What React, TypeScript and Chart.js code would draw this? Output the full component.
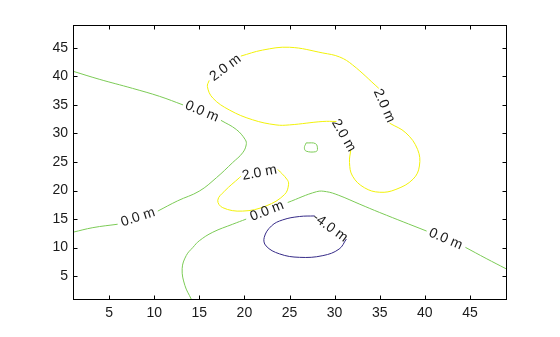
import React, { useEffect, useRef } from "react";
import { Chart, registerables } from "chart.js";

Chart.register(...registerables);

const xTicks = [5, 10, 15, 20, 25, 30, 35, 40, 45];
const yTicks = [5, 10, 15, 20, 25, 30, 35, 40, 45];
const xRange = [1, 49];
const yRange = [1, 49];

const levelColors: Record<string, string> = {
  "-4.0 m": "#352a87",
  "0.0 m": "#7ccb56",
  "2.0 m": "#f2f20a",
};

// contour segments (level, points [x, y])
const green0a: number[][] = [[1, 40.9], [3.9, 39.5], [7.6, 37.9], [10.6, 36.5], [13.2, 35.0]];
const green0b: number[][] = [[17.4, 32.3], [19.1, 30.7], [20.1, 28.9], [20.2, 28.0], [19.8, 26.6], [18.7, 24.9], [16.9, 22.25], [15.0, 19.9], [12.6, 18.2], [10.4, 16.4]];
const green0c: number[][] = [[5.95, 14.1], [3.2, 13.5], [1, 12.7]];
const green0d: number[][] = [[14.1, 1], [13.4, 3.4], [13.1, 6.3], [13.55, 8.6], [14.3, 10.05], [15.0, 11.2], [16.5, 12.7], [18.7, 14.1], [20.2, 15.0]];
const green0e: number[][] = [[24.8, 17.9], [28.0, 19.8], [29.1, 19.8], [30.4, 19.2], [32.8, 17.6], [35.0, 16.15], [40.2, 12.9]];
const green0f: number[][] = [[44.5, 10.05], [46.8, 8.1], [49, 6.3]];
const green0g: number[][] = [[26.85, 28.35], [27.9, 28.2], [28.1, 27.2], [27.9, 26.8], [26.85, 26.9], [26.65, 27.5], [26.85, 28.35]];
const yellow2a: number[][] = [[19.6, 43.55], [22.0, 44.6], [25.0, 45.1], [28.7, 44.1], [30.55, 43.4], [32.0, 42.0], [34.9, 37.9]];
const yellow2b: number[][] = [[36.1, 31.8], [37.9, 30.1], [39.2, 27.2], [39.4, 24.3], [38.7, 22.0], [36.8, 20.2], [35.0, 19.7], [33.3, 20.5], [32.0, 22.5], [31.65, 24.9], [31.8, 27.2]];
const yellow2c: number[][] = [[30.2, 32.1], [28.7, 32.1], [25.0, 31.5], [23.5, 31.5], [20.9, 32.4], [18.35, 34.1], [16.5, 36.2], [15.9, 38.2], [16.1, 39.3]];
const yellow2d: number[][] = [[23.7, 23.7], [24.7, 22.0], [24.9, 21.1], [24.45, 19.3], [22.4, 17.3], [19.8, 16.4], [17.6, 17.0], [17.05, 18.3], [17.8, 19.9], [19.45, 22.25], [19.6, 22.5]];
const blue4a: number[][] = [[27.8, 15.55], [26.1, 15.45], [24.25, 14.86], [23.0, 13.8], [22.2, 11.8], [22.4, 10.3], [23.9, 8.9], [26.1, 8.3], [28.7, 8.6], [30.5, 9.75], [31.3, 11.5]];

const segments: [string, number[][]][] = [
  ["0.0 m", green0a], ["0.0 m", green0b], ["0.0 m", green0c], ["0.0 m", green0d],
  ["0.0 m", green0e], ["0.0 m", green0f], ["0.0 m", green0g],
  ["2.0 m", yellow2a], ["2.0 m", yellow2b], ["2.0 m", yellow2c], ["2.0 m", yellow2d],
  ["-4.0 m", blue4a],
];

// label text, x, y, rotation (degrees)
const labelText = ["0.0 m", "0.0 m", "0.0 m", "0.0 m", "2.0 m", "2.0 m", "2.0 m", "2.0 m", "-4.0 m"];
const labelX = [15.3, 8.2, 22.5, 42.3, 17.9, 35.5, 31.0, 21.67, 29.5];
const labelY = [33.85, 15.3, 16.4, 11.5, 41.5, 34.85, 29.65, 23.1, 13.5];
const labelRot = [23, -18, -21, 23, -37, 66, 60, -11, 36];

const FONT = "'Liberation Sans', Arial, Helvetica, sans-serif";

const framePlugin = {
  id: "frame",
  afterDraw(chart: any) {
    const { ctx, chartArea } = chart;
    const xs = chart.scales.x;
    const ys = chart.scales.y;
    const l = Math.round(chartArea.left) + 0.5;
    const r = Math.round(chartArea.right) + 0.5;
    const t = Math.round(chartArea.top) + 0.5;
    const b = Math.round(chartArea.bottom) + 0.5;
    ctx.save();
    ctx.strokeStyle = "#000";
    ctx.lineWidth = 1;
    ctx.strokeRect(l, t, r - l, b - t);
    const tl = 4;
    ctx.beginPath();
    for (const v of xTicks) {
      const px = Math.round(xs.getPixelForValue(v)) + 0.5;
      ctx.moveTo(px, b); ctx.lineTo(px, b - tl);
      ctx.moveTo(px, t); ctx.lineTo(px, t + tl);
    }
    for (const v of yTicks) {
      const py = Math.round(ys.getPixelForValue(v)) + 0.5;
      ctx.moveTo(l, py); ctx.lineTo(l + tl, py);
      ctx.moveTo(r, py); ctx.lineTo(r - tl, py);
    }
    ctx.stroke();
    ctx.restore();
  },
  afterDatasetsDraw(chart: any) {
    const { ctx } = chart;
    const xs = chart.scales.x;
    const ys = chart.scales.y;
    ctx.save();
    ctx.fillStyle = "#1a1a1a";
    ctx.font = `14px ${FONT}`;
    ctx.textAlign = "center";
    ctx.textBaseline = "middle";
    labelText.forEach((txt, i) => {
      const px = xs.getPixelForValue(labelX[i]);
      const py = ys.getPixelForValue(labelY[i]);
      ctx.save();
      ctx.translate(px, py);
      ctx.rotate((labelRot[i] * Math.PI) / 180);
      ctx.fillText(txt, 0, 0);
      ctx.restore();
    });
    ctx.restore();
  },
};

export default function App() {
  const ref = useRef<HTMLCanvasElement | null>(null);
  useEffect(() => {
    document.body.style.margin = "0";
    const canvas = ref.current!;
    const datasets = segments.map(([lvl, pts]) => ({
      label: lvl,
      data: pts.map(([x, y]) => ({ x, y })),
      showLine: true,
      borderColor: levelColors[lvl],
      backgroundColor: levelColors[lvl],
      borderWidth: 1,
      pointRadius: 0,
      tension: 0.4,
      fill: false,
    }));
    const chart = new Chart(canvas, {
      type: "scatter",
      data: { datasets },
      plugins: [framePlugin],
      options: {
        animation: false,
        responsive: false,
        maintainAspectRatio: false,
        layout: { padding: { top: 25, right: 54, left: 0, bottom: 0 } },
        plugins: { legend: { display: false }, tooltip: { enabled: false } },
        scales: {
          x: {
            type: "linear",
            min: xRange[0],
            max: xRange[1],
            grid: { display: false, drawTicks: false },
            border: { display: false },
            afterBuildTicks: (s: any) => { s.ticks = xTicks.map((v) => ({ value: v })); },
            afterFit: (s: any) => { s.height = 38; },
            ticks: { color: "#1a1a1a", font: { family: FONT, size: 14 }, padding: 6, maxRotation: 0 },
          },
          y: {
            type: "linear",
            min: yRange[0],
            max: yRange[1],
            grid: { display: false, drawTicks: false },
            border: { display: false },
            afterBuildTicks: (s: any) => { s.ticks = yTicks.map((v) => ({ value: v })); },
            afterFit: (s: any) => { s.width = 73; },
            ticks: { color: "#1a1a1a", font: { family: FONT, size: 14 }, padding: 5 },
          },
        },
      },
    });
    return () => chart.destroy();
  }, []);
  return (
    <div style={{ width: 560, height: 337, background: "#fff" }}>
      <canvas ref={ref} width={560} height={337} style={{ display: "block" }} />
    </div>
  );
}
